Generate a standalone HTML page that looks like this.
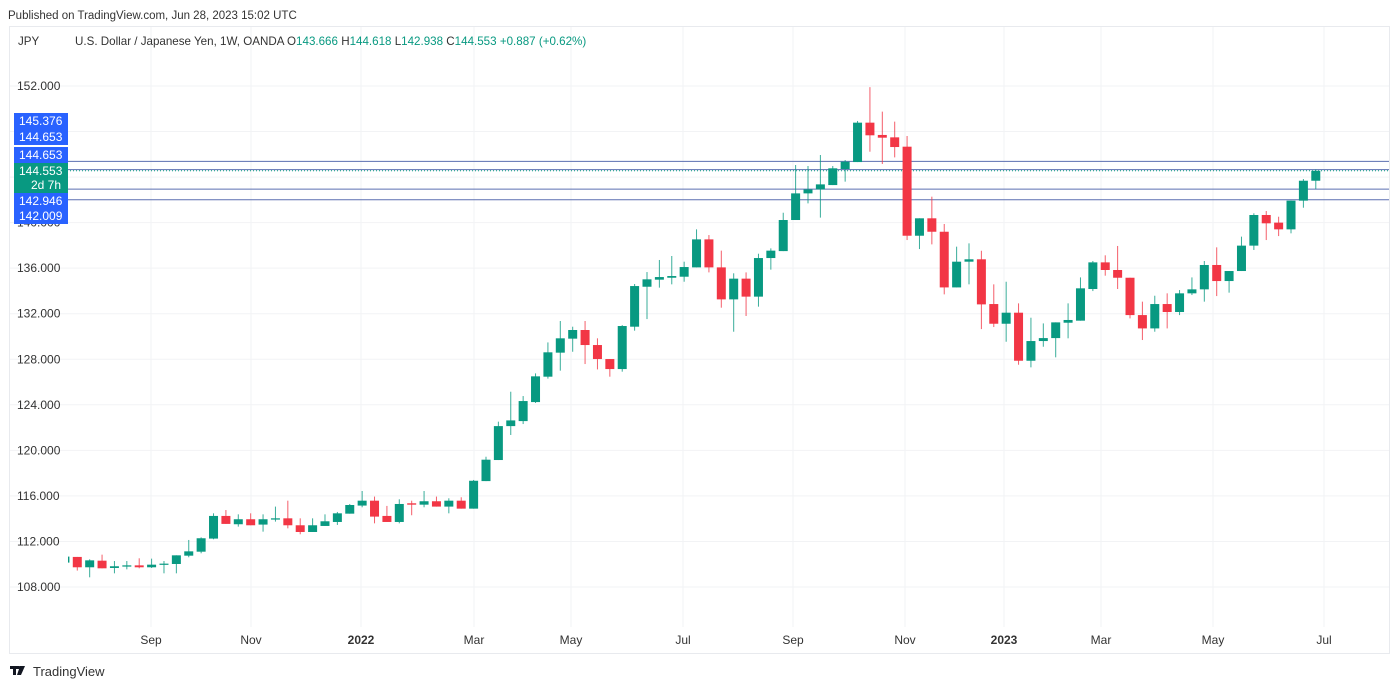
<!DOCTYPE html>
<html><head><meta charset="utf-8"><style>
body{margin:0;background:#fff;font-family:"Liberation Sans",sans-serif;}
#wrap{position:relative;width:1400px;height:688px;overflow:hidden;}
</style></head><body>
<div id="wrap">
<svg id="svg" width="1400" height="688" xmlns="http://www.w3.org/2000/svg">
<defs><clipPath id="plotclip"><rect x="68" y="27" width="1321" height="600"/></clipPath></defs>
<text x="8" y="19" font-size="11.5" fill="#333">Published on TradingView.com, Jun 28, 2023 15:02 UTC</text>
<rect x="9.5" y="26.5" width="1380" height="627" fill="none" stroke="#e8eaee"/>
<g id="grid"></g>
<g id="hlines" clip-path="url(#plotclip)"></g>
<g id="candles" clip-path="url(#plotclip)"></g>
<g id="ylabels"></g>
<g id="xlabels"></g>
<text x="18" y="45" font-size="11.6" fill="#333">JPY</text>
<text x="75" y="45" font-size="11.6" fill="#333">U.S. Dollar / Japanese Yen, 1W, OANDA  O<tspan fill="#089981">143.666</tspan>  H<tspan fill="#089981">144.618</tspan>  L<tspan fill="#089981">142.938</tspan>  C<tspan fill="#089981">144.553</tspan>  <tspan fill="#089981">+0.887 (+0.62%)</tspan></text>
<g><rect x="10" y="666" width="9" height="3" fill="#131722"/><rect x="13" y="666" width="3" height="9" fill="#131722"/><polygon points="20,666 25,666 21,675 17,675" fill="#131722"/><circle cx="19" cy="667.5" r="1.5" fill="#131722"/></g>
<text x="33" y="676" font-size="13" fill="#333">TradingView</text>
</svg></div>
<script>
const opens=[110.14,110.64,109.73,110.31,109.67,109.79,109.9,109.73,109.96,110.02,110.75,111.1,112.25,114.24,113.51,113.95,113.48,113.92,114.03,113.42,112.83,113.36,113.71,114.44,115.15,115.58,114.24,113.71,115.35,115.23,115.53,115.06,115.58,114.88,117.3,119.15,122.13,122.57,124.24,126.47,128.58,129.81,130.57,129.25,128.02,127.14,130.86,134.37,134.99,135.16,135.25,136.07,138.53,136.07,133.26,135.08,133.5,136.89,137.5,140.23,142.57,142.92,143.3,144.71,145.32,148.78,147.7,147.49,146.67,138.85,140.38,139.2,134.31,136.57,136.78,132.85,131.12,132.09,127.87,129.6,129.86,131.21,131.39,134.17,136.51,135.84,135.16,131.88,130.71,132.85,132.15,133.79,134.14,136.28,134.87,135.75,137.98,140.67,140,139.41,141.93,143.68];
const highs=[110.67,110.64,110.43,110.84,110.28,110.28,110.52,110.49,110.28,110.78,112.13,112.36,114.47,114.76,114.38,114.47,114.38,115.06,115.58,114.03,114.03,114.38,114.59,115.29,116.43,115.94,115.12,115.7,115.58,116.43,115.94,115.79,115.88,117.4,119.44,122.52,125.15,124.77,126.76,129.48,131.36,130.86,131.36,129.84,128.02,131,134.61,135.66,136.72,137.07,136.57,139.41,138.91,137.54,135.55,135.63,137.27,137.74,140.87,145.06,144.97,145.94,144.97,145.5,148.93,151.9,149.75,148.87,147.61,140.38,142.28,139.88,137.89,138.18,137.53,134.58,134.81,132.91,131.65,131.15,131.24,132.91,135.19,136.63,137.13,137.95,135.16,133.06,133.58,133.79,134.08,135.19,136.63,137.83,135.75,138.77,140.82,141.02,140.52,141.93,143.83,144.68];
const lows=[110.14,109.44,108.85,109.64,109.2,109.55,109.64,109.67,109.2,109.2,110.61,110.96,112.19,113.54,113.3,113.42,112.86,113.74,113.15,112.63,112.83,113.36,113.45,114.44,115,113.59,113.71,113.59,114.3,115,115.06,114.47,114.88,114.88,117.3,119.15,121.35,122.31,124.16,126.3,127,128.66,127.58,127.11,126.47,126.91,130.51,131.53,134.29,134.58,134.81,136.07,135.63,132.53,130.42,131.8,132.62,135.87,137.5,140.23,141.69,140.44,143.3,143.6,145.32,146.23,145.15,145.73,138.47,137.68,138.09,133.7,134.31,134.58,130.65,130.83,129.54,127.52,127.29,129.1,128.17,129.84,131.39,133.99,135.34,134.17,131.59,129.69,130.42,130.71,131.88,133.64,133.06,133.55,133.85,135.75,137.6,138.47,138.82,139.06,141.31,142.95];
const closes=[110.67,109.73,110.34,109.64,109.82,109.9,109.73,109.96,110.05,110.78,111.13,112.28,114.24,113.54,113.95,113.42,113.95,114.03,113.42,112.83,113.42,113.77,114.47,115.2,115.58,114.18,113.71,115.29,115.23,115.53,115.06,115.58,114.88,117.33,119.18,122.13,122.63,124.33,126.5,128.61,129.84,130.57,129.25,128.02,127.14,130.92,134.43,135.02,135.22,135.31,136.1,138.53,136.07,133.26,135.08,133.5,136.89,137.54,140.23,142.57,142.92,143.36,144.77,145.35,148.78,147.67,147.46,146.64,138.85,140.38,139.2,134.31,136.57,136.78,132.82,131.12,132.09,127.87,129.6,129.86,131.24,131.45,134.23,136.51,135.84,135.16,131.88,130.71,132.85,132.15,133.79,134.14,136.28,134.87,135.75,137.98,140.67,139.94,139.41,141.93,143.68,144.553];
const yTicks=[152,148,144,140,136,132,128,124,120,116,112,108];
const xTickLabels=["Sep","Nov","2022","Mar","May","Jul","Sep","Nov","2023","Mar","May","Jul"];
const hlinePrices=[145.376,144.653,142.946,142.009];
const lastPrice=144.553;

const NS="http://www.w3.org/2000/svg";
function y(p){return 86+(152-p)*11.386;}
function x(i){return 64.9+i*12.385;}
function el(tag,attrs,parent){const e=document.createElementNS(NS,tag);for(const k in attrs)e.setAttribute(k,attrs[k]);parent.appendChild(e);return e;}
const grid=document.getElementById('grid');
const xPix=[151,251,361,474,571,683,793,905,1004,1101,1213,1324];
yTicks.forEach(t=>{
  const l=el('line',{x1:10,x2:1389,y1:y(t),y2:y(t),stroke:'#f2f3f5'},grid);
  
  
});
xPix.forEach(px=>{
  const l=el('line',{x1:px,x2:px,y1:27,y2:627,stroke:'#f2f3f5'},grid);
  
  
});
const hl=document.getElementById('hlines');
hlinePrices.forEach(p=>{
  const l=el('line',{x1:10,x2:1389,y1:y(p),y2:y(p),stroke:'#5b6fb0','stroke-width':1},hl);
  
  
});
const lp=el('line',{x1:10,x2:1389,y1:y(lastPrice),y2:y(lastPrice),stroke:'#089981','stroke-dasharray':'1,2'},hl);


const cg=document.getElementById('candles');
for(let i=0;i<opens.length;i++){
  const up=closes[i]>=opens[i];const col=up?'#089981':'#f23645';
  const g=el('g',{},cg);
  
  
  el('line',{x1:x(i),x2:x(i),y1:y(highs[i]),y2:y(lows[i]),stroke:col,'stroke-width':1,opacity:0.8},g);
  const t=y(Math.max(opens[i],closes[i])),b=y(Math.min(opens[i],closes[i]));
  el('rect',{x:x(i)-4.5,y:t,width:9,height:Math.max(1.2,b-t),fill:col},g);
}
const yl=document.getElementById('ylabels');
yTicks.forEach(t=>{
  const tx=el('text',{x:17,y:y(t)+4,'font-size':12,fill:'#333'},yl);
  tx.textContent=t.toFixed(3);
  
  
});
const boxes=[["145.376",113,16,'#2962ff'],["144.653",129,16,'#2962ff'],["144.653",147,16,'#2962ff'],["144.553",163,30,'#089981'],["142.946",193,16,'#2962ff'],["142.009",208,16,'#2962ff']];
boxes.forEach(b=>{
  const g=el('g',{},yl);
  
  
  el('rect',{x:14,y:b[1],width:54,height:b[2],fill:b[3]},g);
  const t=el('text',{x:19,y:b[1]+12,'font-size':12,fill:'#fff'},g);t.textContent=b[0];
  if(b[2]>20){const t2=el('text',{x:31,y:b[1]+26,'font-size':12,fill:'#fff'},g);t2.textContent='2d 7h';}
});
const xl=document.getElementById('xlabels');
xTickLabels.forEach((s,i)=>{
  const t=el('text',{x:xPix[i],y:644,'font-size':12,fill:'#333','text-anchor':'middle','font-weight':(s.length==4?'bold':'normal')},xl);
  t.textContent=s;
  
  
});
</script>
</body></html>
